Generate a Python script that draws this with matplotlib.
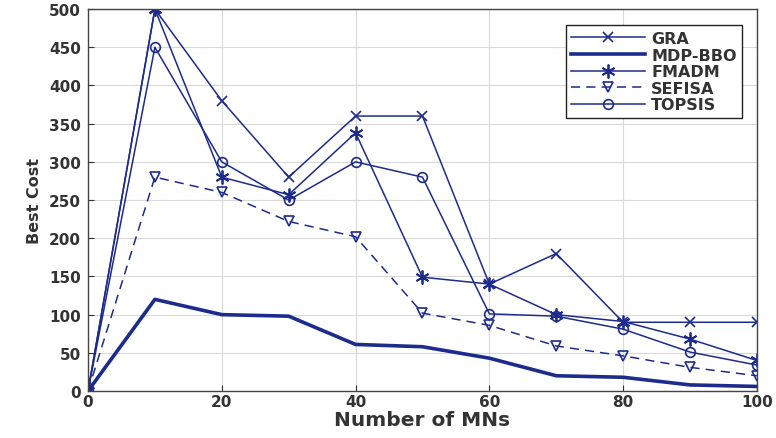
import matplotlib.pyplot as plt

plt.rcParams['font.family'] = ['DejaVu Sans']
plt.rcParams['font.weight'] = 'bold'

mns = [0, 10, 20, 30, 40, 50, 60, 70, 80, 90, 100]
gra = [0, 500, 380, 280, 360, 360, 140, 180, 90, 90, 90]
mdp_bbo = [0, 120, 100, 98, 61, 58, 43, 20, 18, 8, 6]
fmadm = [0, 500, 280, 257, 338, 149, 140, 100, 91, 68, 40]
sefisa = [0, 280, 260, 222, 202, 102, 86, 59, 46, 31, 20]
topsis = [0, 450, 300, 250, 300, 280, 101, 98, 81, 51, 34]

c = '#1c2b8c'

fig = plt.figure(figsize=(7.76, 4.39), dpi=100)
ax = fig.add_axes([0.1134, 0.107, 0.862, 0.870])

ax.plot(mns, gra, color=c, lw=1.1, marker='x', ms=7, mew=1.2, label='GRA')
ax.plot(mns, mdp_bbo, color=c, lw=2.6, label='MDP-BBO')
ax.plot(mns, fmadm, color=c, lw=1.1, marker=(6, 2, 0), ms=10, mew=1.3,
        label='FMADM')
ax.plot(mns, sefisa, color=c, lw=1.1, ls=(0, (6, 4)), marker='v', ms=7.5,
        mfc='none', mew=1.2, label='SEFISA')
ax.plot(mns, topsis, color=c, lw=1.1, marker='o', ms=7, mfc='none', mew=1.2,
        label='TOPSIS')

ax.set_xlim(0, 100)
ax.set_ylim(0, 500)
ax.set_xticks(range(0, 101, 20))
ax.set_yticks(range(0, 501, 50))
ax.tick_params(labelsize=11, direction='in', length=4, colors='#333333')
ax.tick_params(axis='x', pad=2)
ax.tick_params(axis='y', pad=5)
ax.grid(True, color='#d9d9d9', lw=0.8)
ax.set_axisbelow(True)
for s in ax.spines.values():
    s.set_color('#444444')
    s.set_linewidth(1.0)

ax.set_xlabel('Number of MNs', fontsize=14.5, fontweight='bold', labelpad=1,
              color='#333333')
ax.set_ylabel('Best Cost', fontsize=11.5, fontweight='bold', labelpad=5,
              color='#333333')

leg = ax.legend(loc='upper right', fontsize=11.5, fancybox=False, framealpha=1,
                edgecolor='#222222', borderpad=0.35, labelspacing=0.1,
                handlelength=4.6, handletextpad=0.4,
                bbox_to_anchor=(0.99, 0.978))
leg.get_frame().set_linewidth(1.0)
for t in leg.get_texts():
    t.set_color('#333333')

fig.savefig('out.png', dpi=100)
